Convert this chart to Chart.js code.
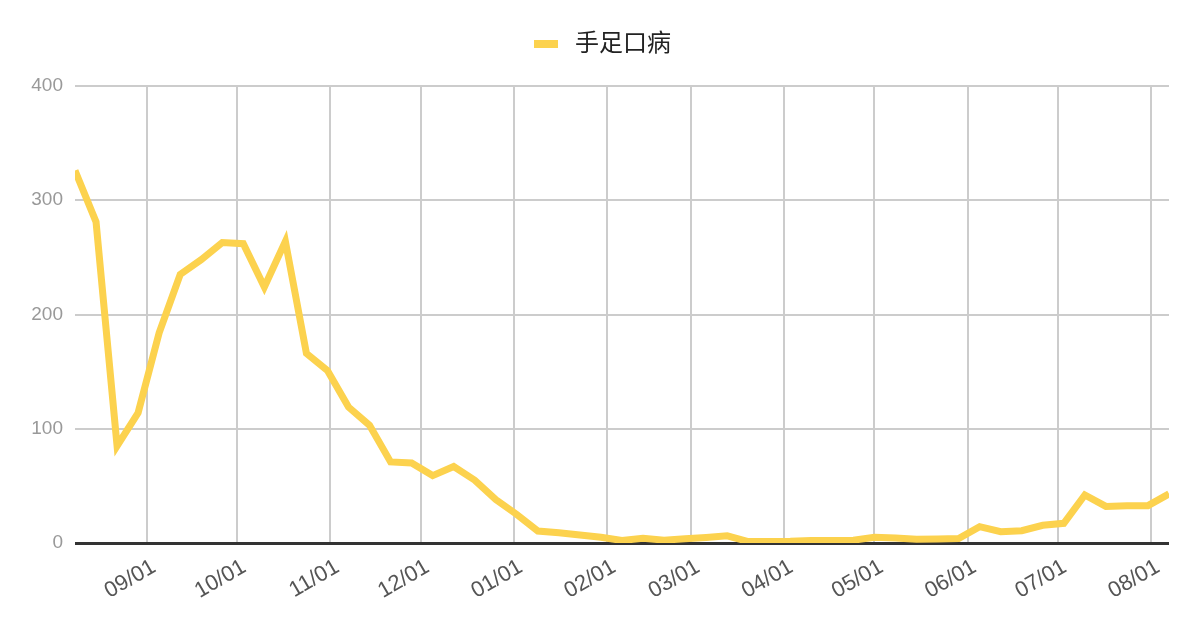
<!DOCTYPE html>
<html>
<head>
<meta charset="utf-8">
<script src="https://cdn.jsdelivr.net/npm/chart.js@4"></script>
<style>
  html, body { margin: 0; padding: 0; background: #fff; }
  #wrap { width: 1200px; height: 626px; }
</style>
</head>
<body>
<div id="wrap"><canvas id="chart"></canvas></div>
<script>
// ====== Data ======
const seriesLabel = '手足口病';

// weekly report dates
const weekDates = [
    '2022-08-08', '2022-08-15', '2022-08-22', '2022-08-29', '2022-09-05', '2022-09-12',
    '2022-09-19', '2022-09-26', '2022-10-03', '2022-10-10', '2022-10-17', '2022-10-24',
    '2022-10-31', '2022-11-07', '2022-11-14', '2022-11-21', '2022-11-28', '2022-12-05',
    '2022-12-12', '2022-12-19', '2022-12-26', '2023-01-02', '2023-01-09', '2023-01-16',
    '2023-01-23', '2023-01-30', '2023-02-06', '2023-02-13', '2023-02-20', '2023-02-27',
    '2023-03-06', '2023-03-13', '2023-03-20', '2023-03-27', '2023-04-03', '2023-04-10',
    '2023-04-17', '2023-04-24', '2023-05-01', '2023-05-08', '2023-05-15', '2023-05-22',
    '2023-05-29', '2023-06-05', '2023-06-12', '2023-06-19', '2023-06-26', '2023-07-03',
    '2023-07-10', '2023-07-17', '2023-07-24', '2023-07-31', '2023-08-07'
];

const weekCases = [
    326, 281, 85, 114, 184, 235, 248, 263, 262, 224, 264, 166,
    151, 119, 103, 71, 70, 59, 67, 55, 38, 25, 10.5, 9,
    7, 5, 2.2, 4.2, 2.5, 3.7, 4.8, 6.3, 1.3, 1.3, 1.5, 2.2,
    2.2, 2.5, 5, 4.4, 3.2, 3.5, 4, 14.3, 9.9, 10.8, 15.5, 17.2,
    42, 32, 32.7, 32.7, 43
];

// month grid lines / tick labels
const tickDates = [
    '2022-09-01', '2022-10-01', '2022-11-01', '2022-12-01', '2023-01-01', '2023-02-01',
    '2023-03-01', '2023-04-01', '2023-05-01', '2023-06-01', '2023-07-01', '2023-08-01'
];
const tickLabels = [
    '09/01', '10/01', '11/01', '12/01', '01/01', '02/01',
    '03/01', '04/01', '05/01', '06/01', '07/01', '08/01'
];

const yTicks = [0, 100, 200, 300, 400];

// ====== Helpers ======
const toMs = (d) => Date.parse(d);
const tickMs = tickDates.map(toMs);
const points = weekDates.map((d, i) => ({ x: toMs(d), y: weekCases[i] }));

const FONT = "Arial, 'Liberation Sans', 'Noto Sans CJK SC', sans-serif";
const LINE_COLOR = '#fcd24e';

// legend marker: 24x8 bar, drawn inside a wider slot to get the text gap
const legendMarker = document.createElement('canvas');
legendMarker.width = 24;
legendMarker.height = 8;
const mctx = legendMarker.getContext('2d');
mctx.fillStyle = LINE_COLOR;
mctx.fillRect(0, 0, 24, 8);

// legend sits in a fixed-height band above the plot
const legendBand = {
    id: 'legendBand',
    beforeInit(chart) {
        const fit = chart.legend.fit;
        chart.legend.fit = function () {
            fit.bind(chart.legend)();
            this.height = 86;
        };
    }
};

// ====== Chart ======
new Chart(document.getElementById('chart'), {
    type: 'line',
    data: {
        datasets: [{
            label: seriesLabel,
            data: points,
            borderColor: LINE_COLOR,
            backgroundColor: LINE_COLOR,
            borderWidth: 7,
            pointRadius: 0,
            tension: 0,
            fill: false
        }]
    },
    options: {
        responsive: true,
        maintainAspectRatio: false,
        animation: false,
        layout: { padding: 0 },
        plugins: {
            tooltip: { enabled: false },
            legend: {
                position: 'top',
                labels: {
                    usePointStyle: true,
                    pointStyleWidth: 34,
                    boxHeight: 8,
                    padding: 32,
                    color: '#222',
                    font: { family: FONT, size: 24 },
                    generateLabels: (chart) => Chart.defaults.plugins.legend.labels
                        .generateLabels(chart)
                        .map(item => ({ ...item, lineWidth: 0, pointStyle: legendMarker }))
                }
            }
        },
        scales: {
            x: {
                type: 'linear',
                min: toMs(weekDates[0]),
                max: toMs(weekDates[weekDates.length - 1]),
                afterBuildTicks: (scale) => {
                    scale.ticks = tickMs.map(v => ({ value: v }));
                },
                afterFit: (scale) => { scale.height = 83; },
                border: { display: false },
                grid: { color: '#cccccc', lineWidth: 2, drawTicks: false },
                ticks: {
                    autoSkip: false,
                    minRotation: 30,
                    maxRotation: 30,
                    padding: 11,
                    labelOffset: 7,
                    color: '#555',
                    font: { family: FONT, size: 22 },
                    callback: (value) => {
                        const idx = tickMs.indexOf(value);
                        return idx >= 0 ? tickLabels[idx] : '';
                    }
                }
            },
            y: {
                min: 0,
                max: 400,
                afterBuildTicks: (scale) => {
                    scale.ticks = yTicks.map(v => ({ value: v }));
                },
                afterFit: (scale) => { scale.width = 75; },
                border: { display: false },
                grid: {
                    drawTicks: false,
                    color: (ctx) => ctx.tick && ctx.tick.value === 0 ? '#333333' : '#cccccc',
                    lineWidth: (ctx) => ctx.tick && ctx.tick.value === 0 ? 3 : 2
                },
                ticks: {
                    padding: 12,
                    color: '#999',
                    font: { family: FONT, size: 19 }
                }
            },
            // empty right-hand axis, only reserves the right margin
            yRight: {
                position: 'right',
                afterFit: (scale) => { scale.width = 31; },
                border: { display: false },
                grid: { display: false },
                ticks: { display: false }
            }
        }
    },
    plugins: [legendBand]
});
</script>
</body>
</html>
